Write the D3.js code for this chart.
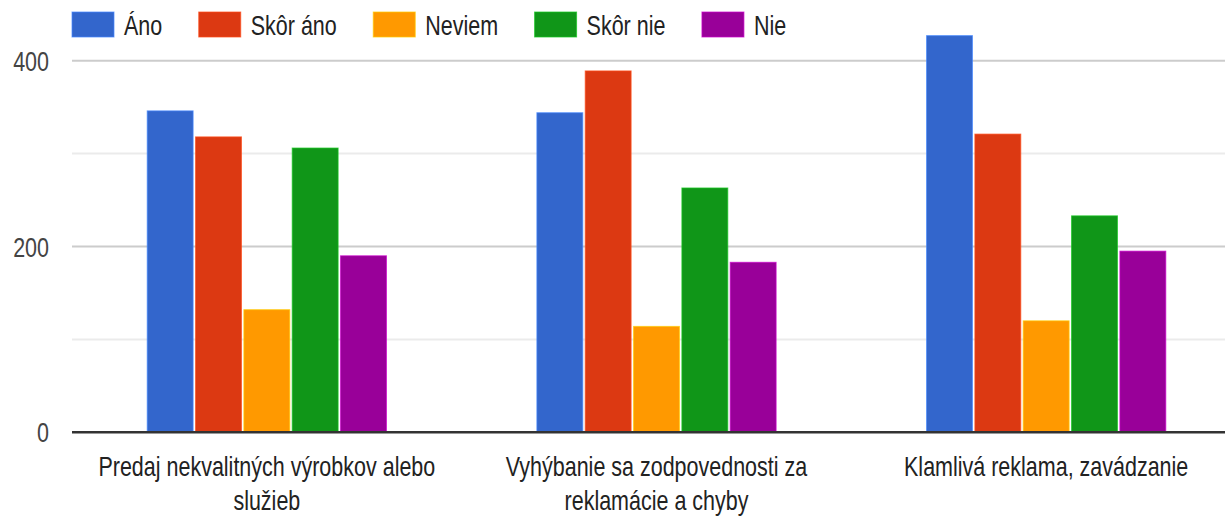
<!DOCTYPE html>
<html>
<head>
<meta charset="utf-8">
<script src="https://cdn.jsdelivr.net/npm/d3@7"></script>
<style>
  html, body { margin: 0; padding: 0; background: #fff; }
  svg { display: block; font-family: "Liberation Sans", Arial, sans-serif; }
</style>
</head>
<body>
<svg id="chart" width="1225" height="516"></svg>
<script>
// ---- data ----
const categories = [
  "Predaj nekvalitných výrobkov alebo služieb",
  "Vyhýbanie sa zodpovednosti za reklamácie a chyby",
  "Klamlivá reklama, zavádzanie"
];
const seriesNames = ["Áno", "Skôr áno", "Neviem", "Skôr nie", "Nie"];
const ano      = [346, 344, 427];
const skorAno  = [318, 389, 321];
const neviem   = [132, 114, 120];
const skorNie  = [306, 263, 233];
const nie      = [190, 183, 195];
const seriesValues = [ano, skorAno, neviem, skorNie, nie];
const colors = ["#3366cc", "#dc3912", "#ff9900", "#109618", "#990099"];
const yTicks = [0, 100, 200, 300, 400];
const yTickLabels = ["0", "", "200", "", "400"];

// ---- layout ----
const W = 1225, H = 516;
const plotLeft = 72, plotRight = 1241;
const y0 = 432.3, yTop = 60.7;
const FS = 21.5, SY = 1.3;   // font size and vertical stretch of the reference

const svg = d3.select("#chart");

const x0 = d3.scaleBand().domain(categories).range([plotLeft, plotRight])
  .paddingInner(0.386).paddingOuter(0.193);
const x1 = d3.scaleBand().domain(seriesNames).range([0, x0.bandwidth()])
  .paddingInner(0.05).paddingOuter(0);
const y = d3.scaleLinear().domain([0, 400]).range([y0, yTop]);

// gridlines
svg.append("g").selectAll("line").data(yTicks.filter(d => d !== 0)).join("line")
  .attr("x1", plotLeft).attr("x2", W)
  .attr("y1", d => y(d)).attr("y2", d => y(d))
  .attr("stroke", d => d % 200 === 0 ? "#cccccc" : "#ebebeb")
  .attr("stroke-width", 2);

// y tick labels
svg.append("g").selectAll("text").data(yTicks).join("text")
  .attr("transform", d => `translate(49,${y(d) + 10}) scale(1,${SY})`)
  .attr("text-anchor", "end")
  .attr("font-size", FS)
  .attr("fill", "#444")
  .text((d, i) => yTickLabels[i]);

// bars
const table = categories.map((c, ci) => ({
  cat: c,
  vals: seriesNames.map((s, si) => ({ s, si, v: seriesValues[si][ci] }))
}));
const groups = svg.append("g").selectAll("g").data(table).join("g")
  .attr("transform", d => `translate(${x0(d.cat)},0)`);
groups.selectAll("rect").data(d => d.vals).join("rect")
  .attr("x", d => x1(d.s))
  .attr("y", d => y(d.v))
  .attr("width", x1.bandwidth())
  .attr("height", d => y0 - y(d.v))
  .attr("fill", d => colors[d.si])
  .attr("stroke", d => d3.color(colors[d.si]).brighter(0.8))
  .attr("stroke-width", 1)
  .attr("stroke-opacity", 0.7);

// baseline axis
svg.append("line")
  .attr("x1", plotLeft).attr("x2", W)
  .attr("y1", y0).attr("y2", y0)
  .attr("stroke", "#333").attr("stroke-width", 2.5);

// x-axis labels (wrapped)
const measurer = svg.append("text").attr("font-size", FS).attr("visibility", "hidden");
function textWidth(s) { measurer.text(s); return measurer.node().getComputedTextLength(); }
function wrap(s, maxW) {
  const words = s.split(" ");
  const lines = [];
  let cur = "";
  words.forEach(w => {
    const t = cur ? cur + " " + w : w;
    if (cur && textWidth(t) > maxW) { lines.push(cur); cur = w; }
    else cur = t;
  });
  if (cur) lines.push(cur);
  return lines;
}
const xAxisG = svg.append("g");
categories.forEach(c => {
  const cx = x0(c) + x0.bandwidth() / 2;
  wrap(c, 370).forEach((line, li) => {
    xAxisG.append("text")
      .attr("transform", `translate(${cx},${476 + li * 34}) scale(1,${SY})`)
      .attr("text-anchor", "middle")
      .attr("font-size", FS)
      .attr("fill", "#222")
      .text(line);
  });
});
measurer.remove();

// legend
const legend = svg.append("g");
let lx = 72;
seriesNames.forEach((s, i) => {
  legend.append("rect")
    .attr("x", lx).attr("y", 12).attr("width", 42).attr("height", 25)
    .attr("fill", colors[i])
    .attr("stroke", d3.color(colors[i]).brighter(0.8))
    .attr("stroke-width", 1).attr("stroke-opacity", 0.7);
  const t = legend.append("text")
    .attr("transform", `translate(${lx + 52},35) scale(1,${SY})`)
    .attr("font-size", FS)
    .attr("fill", "#222")
    .text(s);
  lx += 52 + t.node().getComputedTextLength() + 36.5;
});
</script>
</body>
</html>
